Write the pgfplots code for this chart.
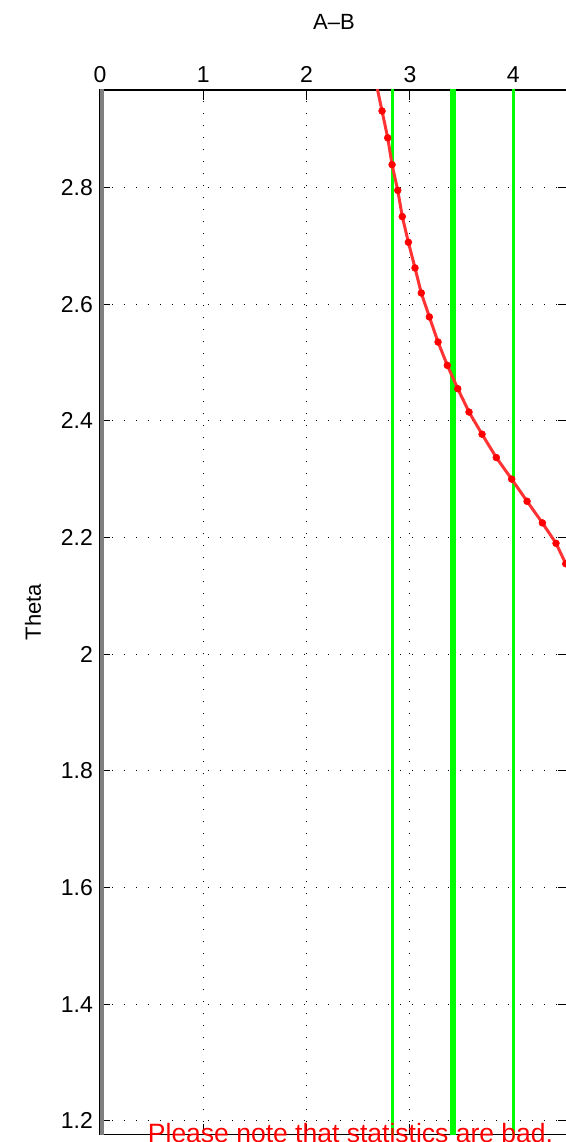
\documentclass[border=0pt]{standalone}
\usepackage{fontspec}
\setmainfont{Liberation Sans}
\usepackage{pgfplots}
\pgfplotsset{compat=1.18}
\definecolor{mgreen}{rgb}{0,1,0}
\definecolor{mred}{rgb}{1,0,0}
\definecolor{mline}{rgb}{1,0.2,0.2}
\definecolor{mgrey}{rgb}{0.5,0.5,0.5}
\begin{document}
\begin{tikzpicture}
\begin{axis}[
  at={(50pt,3.85pt)}, anchor=south west,
  scale only axis, width=234pt, height=522.15pt,
  xmin=0, xmax=4.53, ymin=1.177, ymax=2.967,
  xtick={0,1,2,3,4}, ytick={1.2,1.4,1.6,1.8,2,2.2,2.4,2.6,2.8},
  xticklabel pos=right,
  tick align=inside, major tick length=5pt,
  tick style={black, line width=0.5pt},
  axis line style={black, line width=0.6pt},
  grid=major,
  major grid style={black, line width=0.5pt, dash pattern=on 0.6pt off 5.4pt},
  /pgf/number format/assume math mode=true,
  yticklabel style={/pgf/number format/fixed, /pgf/number format/precision=1},
  tick label style={font=\fontsize{11.5}{13}\selectfont},
  title={A–B},
  title style={font=\fontsize{11}{13}\selectfont, at={(axis description cs:0.5,1)}, anchor=base, yshift=24pt},
  ylabel={Theta},
  ylabel style={font=\fontsize{11}{13}\selectfont, at={(axis description cs:-0.1432,0.5)}, anchor=center},
  clip=true,
]
\addplot[mgrey, line width=2pt] coordinates {(0.019,1.1) (0.019,3.1)};
\addplot[mgreen, line width=1.5pt] coordinates {(2.827,1.1) (2.827,3.1)};
\addplot[mgreen, line width=3pt] coordinates {(3.417,1.1) (3.417,3.1)};
\addplot[mgreen, line width=1.5pt] coordinates {(4.0,1.1) (4.0,3.1)};
\addplot[mline, line width=1.5pt, mark=*, mark size=1.7pt, mark options={draw=mred, fill=mred, line width=0.3pt}] coordinates {
(2.675,2.977)
(2.730,2.931) (2.785,2.885) (2.827,2.839) (2.882,2.795) (2.926,2.750)
(2.985,2.706) (3.049,2.662) (3.110,2.619) (3.188,2.578) (3.272,2.535)
(3.362,2.495) (3.463,2.455) (3.572,2.415) (3.698,2.377) (3.836,2.337)
(3.985,2.300) (4.134,2.262) (4.282,2.225) (4.414,2.190) (4.508,2.155)
(4.600,2.122)
};
\end{axis}
\node[anchor=base, text=mred, font=\fontsize{13.25}{15}\selectfont, inner sep=0pt] at (175.25pt,-0.5pt) {Please note that statistics are bad.};
\pgfresetboundingbox
\path[use as bounding box] (0,0) rectangle (283pt,571pt);
\end{tikzpicture}
\end{document}
